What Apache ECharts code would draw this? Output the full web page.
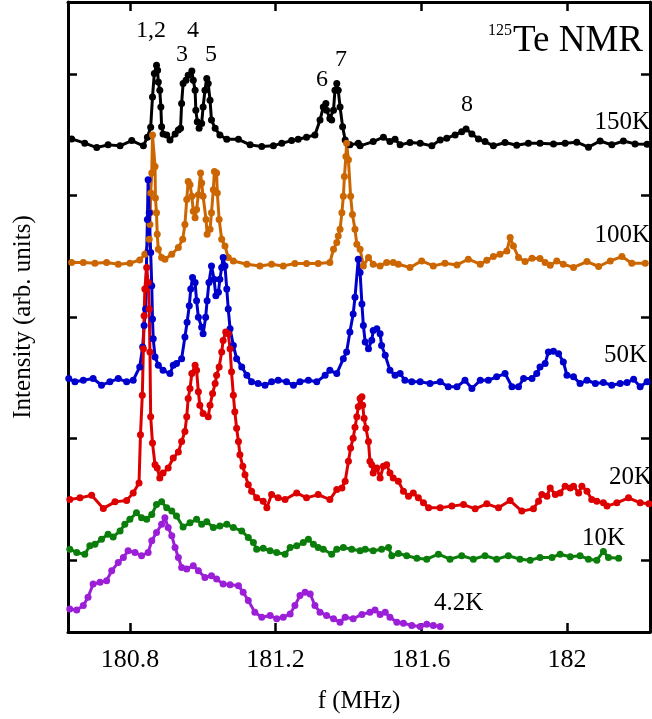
<!DOCTYPE html>
<html>
<head>
<meta charset="utf-8">
<script src="https://cdn.jsdelivr.net/npm/echarts@6/dist/echarts.min.js"></script>
<style>
  html, body { margin: 0; padding: 0; background: #fff; }
  #main { width: 652px; height: 719px; }
</style>
</head>
<body>
<div id="main"></div>
<script>
// f (MHz), intensity (arb. units, each trace offset)
var t150K = [[180.640,4.467],[180.676,4.432],[180.709,4.396],[180.740,4.418],[180.773,4.410],[180.805,4.453],[180.837,4.410],[180.848,4.481],[180.857,4.563],[180.862,4.813],[180.867,5.005],[180.873,5.073],[180.876,5.032],[180.878,4.936],[180.882,4.868],[180.885,4.731],[180.887,4.568],[180.891,4.508],[180.901,4.500],[180.910,4.459],[180.924,4.508],[180.933,4.541],[180.939,4.554],[180.942,4.759],[180.946,4.923],[180.954,4.950],[180.960,4.991],[180.970,5.026],[180.974,4.950],[180.979,4.868],[180.981,4.704],[180.985,4.609],[180.990,4.554],[180.997,4.595],[181.001,4.731],[181.006,4.868],[181.011,4.964],[181.015,4.923],[181.020,4.786],[181.024,4.622],[181.034,4.554],[181.047,4.500],[181.066,4.464],[181.098,4.464],[181.130,4.418],[181.162,4.404],[181.194,4.410],[181.217,4.432],[181.244,4.453],[181.262,4.464],[181.285,4.481],[181.308,4.500],[181.322,4.622],[181.331,4.731],[181.338,4.759],[181.340,4.704],[181.349,4.636],[181.354,4.622],[181.359,4.704],[181.363,4.868],[181.368,4.923],[181.372,4.868],[181.377,4.731],[181.384,4.568],[181.391,4.459],[181.404,4.418],[181.427,4.432],[181.432,4.410],[181.468,4.445],[181.496,4.481],[181.514,4.445],[181.528,4.464],[181.542,4.418],[181.569,4.437],[181.597,4.432],[181.629,4.410],[181.652,4.459],[181.670,4.473],[181.693,4.500],[181.711,4.527],[181.723,4.549],[181.739,4.508],[181.757,4.467],[181.775,4.445],[181.798,4.410],[181.830,4.437],[181.862,4.415],[181.894,4.432],[181.926,4.432],[181.963,4.426],[181.995,4.432],[182.027,4.440],[182.059,4.399],[182.091,4.450],[182.123,4.418],[182.155,4.450],[182.187,4.426],[182.220,4.423]];

var t100K = [[180.640,3.449],[180.672,3.449],[180.704,3.443],[180.736,3.449],[180.768,3.435],[180.800,3.443],[180.827,3.470],[180.841,3.517],[180.853,3.640],[180.855,3.762],[180.856,3.861],[180.857,4.022],[180.860,4.186],[180.862,4.500],[180.869,4.240],[180.870,3.981],[180.873,3.858],[180.875,3.681],[180.878,3.558],[180.887,3.490],[180.896,3.476],[180.915,3.517],[180.933,3.572],[180.945,3.640],[180.951,3.762],[180.956,3.967],[180.960,4.117],[180.965,4.090],[180.970,3.994],[180.974,3.871],[180.979,3.817],[180.983,3.885],[180.988,4.008],[180.994,4.186],[180.997,4.104],[181.001,3.994],[181.009,3.803],[181.012,3.681],[181.020,3.722],[181.024,3.858],[181.029,4.049],[181.032,4.199],[181.038,4.186],[181.040,4.022],[181.045,3.803],[181.052,3.640],[181.061,3.585],[181.070,3.490],[181.084,3.462],[181.121,3.435],[181.157,3.421],[181.189,3.435],[181.221,3.421],[181.253,3.441],[181.285,3.441],[181.317,3.441],[181.349,3.449],[181.359,3.558],[181.368,3.613],[181.372,3.667],[181.377,3.722],[181.382,3.858],[181.386,3.994],[181.389,4.158],[181.393,4.322],[181.395,4.432],[181.400,4.295],[181.406,3.994],[181.411,3.844],[181.418,3.722],[181.423,3.599],[181.432,3.558],[181.441,3.421],[181.455,3.490],[181.468,3.435],[181.487,3.421],[181.505,3.449],[181.523,3.449],[181.537,3.435],[181.569,3.408],[181.601,3.462],[181.633,3.421],[181.665,3.443],[181.698,3.429],[181.729,3.476],[181.762,3.435],[181.780,3.468],[181.798,3.498],[181.816,3.517],[181.835,3.544],[181.844,3.654],[181.853,3.585],[181.867,3.490],[181.885,3.457],[181.904,3.484],[181.926,3.482],[181.940,3.449],[181.954,3.427],[181.972,3.462],[181.990,3.435],[182.018,3.408],[182.055,3.457],[182.087,3.416],[182.119,3.462],[182.151,3.498],[182.178,3.443],[182.215,3.443]];

var t50K = [[180.632,2.493],[180.649,2.466],[180.672,2.479],[180.699,2.493],[180.722,2.438],[180.745,2.466],[180.768,2.493],[180.791,2.466],[180.809,2.479],[180.827,2.589],[180.835,2.753],[180.839,2.930],[180.843,3.066],[180.848,3.803],[180.850,4.131],[180.853,3.858],[180.857,3.531],[180.860,3.257],[180.862,2.984],[180.864,2.821],[180.869,2.671],[180.878,2.602],[180.891,2.561],[180.910,2.534],[180.919,2.602],[180.928,2.616],[180.942,2.657],[180.951,2.835],[180.957,2.957],[180.963,3.093],[180.967,3.230],[180.972,3.326],[180.979,3.285],[180.983,3.134],[180.988,2.998],[180.997,2.916],[181.001,2.862],[181.008,2.998],[181.012,3.134],[181.017,3.285],[181.024,3.421],[181.031,3.312],[181.036,3.175],[181.043,3.203],[181.047,3.312],[181.052,3.408],[181.056,3.490],[181.061,3.421],[181.066,3.230],[181.070,3.066],[181.075,2.903],[181.084,2.766],[181.093,2.657],[181.107,2.589],[181.121,2.520],[181.134,2.466],[181.152,2.452],[181.171,2.438],[181.189,2.466],[181.207,2.479],[181.230,2.466],[181.249,2.438],[181.267,2.466],[181.290,2.479],[181.313,2.466],[181.336,2.520],[181.349,2.561],[181.368,2.534],[181.386,2.657],[181.395,2.712],[181.404,2.876],[181.413,3.025],[181.418,3.162],[181.427,3.476],[181.432,3.367],[181.437,3.107],[181.441,2.930],[181.446,2.794],[181.455,2.739],[181.464,2.808],[181.468,2.889],[181.478,2.903],[181.487,2.862],[181.491,2.766],[181.501,2.684],[181.514,2.561],[181.528,2.520],[181.542,2.534],[181.555,2.479],[181.574,2.466],[181.597,2.466],[181.624,2.452],[181.652,2.466],[181.674,2.425],[181.698,2.425],[181.720,2.479],[181.739,2.411],[181.762,2.479],[181.784,2.479],[181.807,2.507],[181.830,2.534],[181.849,2.425],[181.867,2.425],[181.881,2.493],[181.904,2.493],[181.917,2.534],[181.926,2.589],[181.940,2.616],[181.949,2.712],[181.963,2.717],[181.977,2.698],[181.990,2.630],[182.000,2.520],[182.018,2.507],[182.036,2.452],[182.055,2.479],[182.078,2.452],[182.100,2.460],[182.123,2.438],[182.146,2.452],[182.165,2.460],[182.183,2.487],[182.201,2.425],[182.220,2.466]];

var t20K = [[180.635,1.496],[180.663,1.510],[180.695,1.532],[180.727,1.423],[180.759,1.477],[180.791,1.488],[180.809,1.551],[180.825,1.633],[180.829,2.029],[180.834,2.356],[180.837,2.739],[180.839,3.011],[180.841,3.230],[180.846,3.408],[180.850,3.285],[180.853,3.066],[180.855,2.712],[180.857,2.179],[180.862,1.961],[180.869,1.783],[180.875,1.756],[180.882,1.674],[180.891,1.715],[180.905,1.756],[180.919,1.838],[180.933,1.887],[180.942,1.975],[180.951,2.057],[180.956,2.179],[180.960,2.329],[180.965,2.411],[180.970,2.534],[180.979,2.602],[180.983,2.561],[180.988,2.384],[180.992,2.274],[181.001,2.206],[181.015,2.179],[181.020,2.274],[181.027,2.370],[181.034,2.452],[181.038,2.520],[181.045,2.589],[181.052,2.712],[181.056,2.807],[181.063,2.876],[181.070,2.862],[181.075,2.739],[181.079,2.548],[181.084,2.356],[181.088,2.220],[181.093,2.084],[181.098,1.975],[181.102,1.865],[181.110,1.770],[181.116,1.701],[181.125,1.619],[181.134,1.565],[181.148,1.510],[181.166,1.483],[181.176,1.428],[181.189,1.537],[181.207,1.510],[181.226,1.496],[181.258,1.551],[181.285,1.510],[181.317,1.537],[181.349,1.496],[181.368,1.578],[181.382,1.592],[181.391,1.647],[181.400,1.811],[181.406,1.920],[181.413,2.002],[181.418,2.092],[181.423,2.179],[181.427,2.261],[181.432,2.329],[181.437,2.343],[181.439,2.274],[181.443,2.165],[181.448,2.084],[181.455,1.975],[181.459,1.811],[181.464,1.783],[181.468,1.715],[181.478,1.756],[181.487,1.674],[181.496,1.770],[181.505,1.783],[181.514,1.715],[181.523,1.674],[181.537,1.647],[181.551,1.565],[181.565,1.524],[181.578,1.551],[181.592,1.510],[181.606,1.469],[181.620,1.428],[181.652,1.428],[181.684,1.442],[181.716,1.455],[181.748,1.420],[181.780,1.461],[181.812,1.428],[181.844,1.488],[181.876,1.401],[181.908,1.420],[181.922,1.483],[181.931,1.537],[181.945,1.524],[181.954,1.592],[181.968,1.537],[181.981,1.551],[181.995,1.606],[182.009,1.592],[182.018,1.606],[182.032,1.551],[182.041,1.606],[182.055,1.565],[182.068,1.496],[182.082,1.483],[182.100,1.469],[182.110,1.442],[182.137,1.469],[182.169,1.510],[182.201,1.469],[182.225,1.461]];

var t10K = [[180.635,1.087],[180.654,1.060],[180.676,1.046],[180.690,1.115],[180.704,1.128],[180.722,1.169],[180.740,1.210],[180.754,1.188],[180.773,1.238],[180.786,1.292],[180.800,1.333],[180.818,1.387],[180.832,1.346],[180.846,1.333],[180.860,1.373],[180.873,1.455],[180.887,1.477],[180.901,1.428],[180.915,1.401],[180.928,1.360],[180.946,1.270],[180.965,1.305],[180.983,1.333],[180.997,1.292],[181.011,1.314],[181.029,1.265],[181.047,1.278],[181.066,1.292],[181.084,1.265],[181.107,1.238],[181.125,1.183],[181.139,1.142],[181.148,1.087],[181.166,1.095],[181.185,1.074],[181.203,1.060],[181.226,1.046],[181.240,1.101],[181.258,1.115],[181.276,1.142],[181.290,1.169],[181.304,1.128],[181.317,1.101],[181.331,1.087],[181.354,1.046],[181.368,1.087],[181.386,1.101],[181.409,1.087],[181.432,1.074],[181.446,1.087],[181.468,1.074],[181.491,1.087],[181.510,1.101],[181.519,1.033],[181.537,1.052],[181.560,1.033],[181.588,1.013],[181.615,1.005],[181.647,1.046],[181.679,1.005],[181.711,1.033],[181.743,1.005],[181.775,1.033],[181.807,1.005],[181.839,1.033],[181.871,1.005],[181.899,0.997],[181.926,1.019],[181.959,1.019],[181.981,1.046],[182.009,1.025],[182.036,1.033],[182.059,1.005],[182.082,0.997],[182.100,1.068],[182.114,1.019],[182.142,1.013]];

var t4K = [[180.635,0.595],[180.654,0.587],[180.672,0.623],[180.685,0.691],[180.699,0.800],[180.718,0.814],[180.736,0.828],[180.750,0.910],[180.768,0.978],[180.782,1.019],[180.795,1.074],[180.814,1.060],[180.832,1.033],[180.850,1.060],[180.860,1.156],[180.873,1.224],[180.887,1.292],[180.896,1.346],[180.905,1.265],[180.915,1.197],[180.924,1.101],[180.933,1.019],[180.942,0.937],[180.956,0.923],[180.974,0.951],[180.988,0.910],[181.006,0.855],[181.024,0.869],[181.038,0.841],[181.056,0.800],[181.075,0.795],[181.098,0.787],[181.111,0.732],[181.125,0.664],[181.143,0.568],[181.162,0.527],[181.185,0.541],[181.203,0.514],[181.221,0.527],[181.240,0.554],[181.253,0.623],[181.267,0.705],[181.281,0.732],[181.295,0.718],[181.308,0.623],[181.322,0.568],[181.340,0.541],[181.359,0.514],[181.377,0.486],[181.391,0.527],[181.413,0.514],[181.437,0.550],[181.459,0.568],[181.473,0.587],[181.487,0.550],[181.501,0.568],[181.514,0.527],[181.533,0.486],[181.551,0.478],[181.574,0.459],[181.597,0.451],[181.615,0.468],[181.633,0.459],[181.652,0.451]];

var xTicks = [180.8, 181.2, 181.6, 182];
var yTicks = [1, 2, 3, 4, 5];

var myChart = echarts.init(document.getElementById("main"));

var serif = "Liberation Serif";

function trace(name, data, color) {
    return {
        name: name,
        type: "line",
        data: data,
        symbol: "circle",
        symbolSize: 7,
        itemStyle: { color: color },
        lineStyle: { color: color, width: 3 },
        z: 2,
    };
}

function txt(x, y, s, size, align) {
    return {
        type: "text",
        x: x,
        y: y,
        style: {
            text: s,
            font: size + "px " + serif,
            fill: "#000",
            align: align || "center",
            verticalAlign: "middle",
        },
        z: 10,
    };
}

var axisLine = { show: true, lineStyle: { color: "#000", width: 3 } };
var tickStyle = { inside: true, length: 9, lineStyle: { color: "#000", width: 2.5 } };

var option = {
    animation: false,
    backgroundColor: "#fff",
    grid: { left: 68, right: 2, top: 2, bottom: 84 },
    xAxis: [
        {
            type: "value",
            min: 180.63,
            max: 182.228,
            position: "bottom",
            name: "f (MHz)",
            nameLocation: "middle",
            nameGap: 57,
            nameTextStyle: { fontFamily: serif, fontSize: 25, color: "#000" },
            axisLine: axisLine,
            axisTick: Object.assign({ customValues: xTicks }, tickStyle),
            axisLabel: {
                customValues: xTicks,
                fontFamily: serif,
                fontSize: 26,
                color: "#000",
                margin: 15,
                formatter: function (v) { return String(+v.toFixed(1)); },
            },
            splitLine: { show: false },
        },
        {
            type: "value",
            min: 180.63,
            max: 182.228,
            position: "top",
            axisLine: axisLine,
            axisTick: Object.assign({ customValues: xTicks }, tickStyle),
            axisLabel: { show: false },
            splitLine: { show: false },
        },
    ],
    yAxis: [
        {
            type: "value",
            min: 0.405,
            max: 5.595,
            position: "left",
            name: "Intensity (arb. units)",
            nameLocation: "middle",
            nameGap: 32,
            nameTextStyle: { fontFamily: serif, fontSize: 25, color: "#000" },
            axisLine: axisLine,
            axisTick: Object.assign({ customValues: yTicks }, tickStyle),
            axisLabel: { show: false },
            splitLine: { show: false },
        },
        {
            type: "value",
            min: 0.405,
            max: 5.595,
            position: "right",
            axisLine: axisLine,
            axisTick: Object.assign({ customValues: yTicks }, tickStyle),
            axisLabel: { show: false },
            splitLine: { show: false },
        },
    ],
    series: [
        trace("150K", t150K, "#000000"),
        trace("100K", t100K, "#cc6600"),
        trace("50K", t50K, "#0000cc"),
        trace("20K", t20K, "#dd0000"),
        trace("10K", t10K, "#0a7d0a"),
        trace("4.2K", t4K, "#9c1fd8"),
    ],
    graphic: [
        txt(650, 122, "150K", 25, "right"),
        txt(650, 235, "100K", 25, "right"),
        txt(647, 355, "50K", 25, "right"),
        txt(652, 477, "20K", 25, "right"),
        txt(625, 538, "10K", 25, "right"),
        txt(434, 603, "4.2K", 25, "left"),
        txt(151, 31, "1,2", 24),
        txt(193, 31, "4", 24),
        txt(182, 55, "3", 24),
        txt(211, 55, "5", 24),
        txt(322, 80, "6", 24),
        txt(341, 60, "7", 24),
        txt(467, 105, "8", 24),
        {
            type: "text",
            x: 488,
            y: 41,
            style: {
                text: "{s|125}{b|Te NMR}",
                fill: "#000",
                verticalAlign: "middle",
                rich: {
                    s: { fontFamily: serif, fontSize: 16, verticalAlign: "top", padding: [0, 1, 16, 0] },
                    b: { fontFamily: serif, fontSize: 37 },
                },
            },
            z: 10,
        },
    ],
};

myChart.setOption(option);
</script>
</body>
</html>
